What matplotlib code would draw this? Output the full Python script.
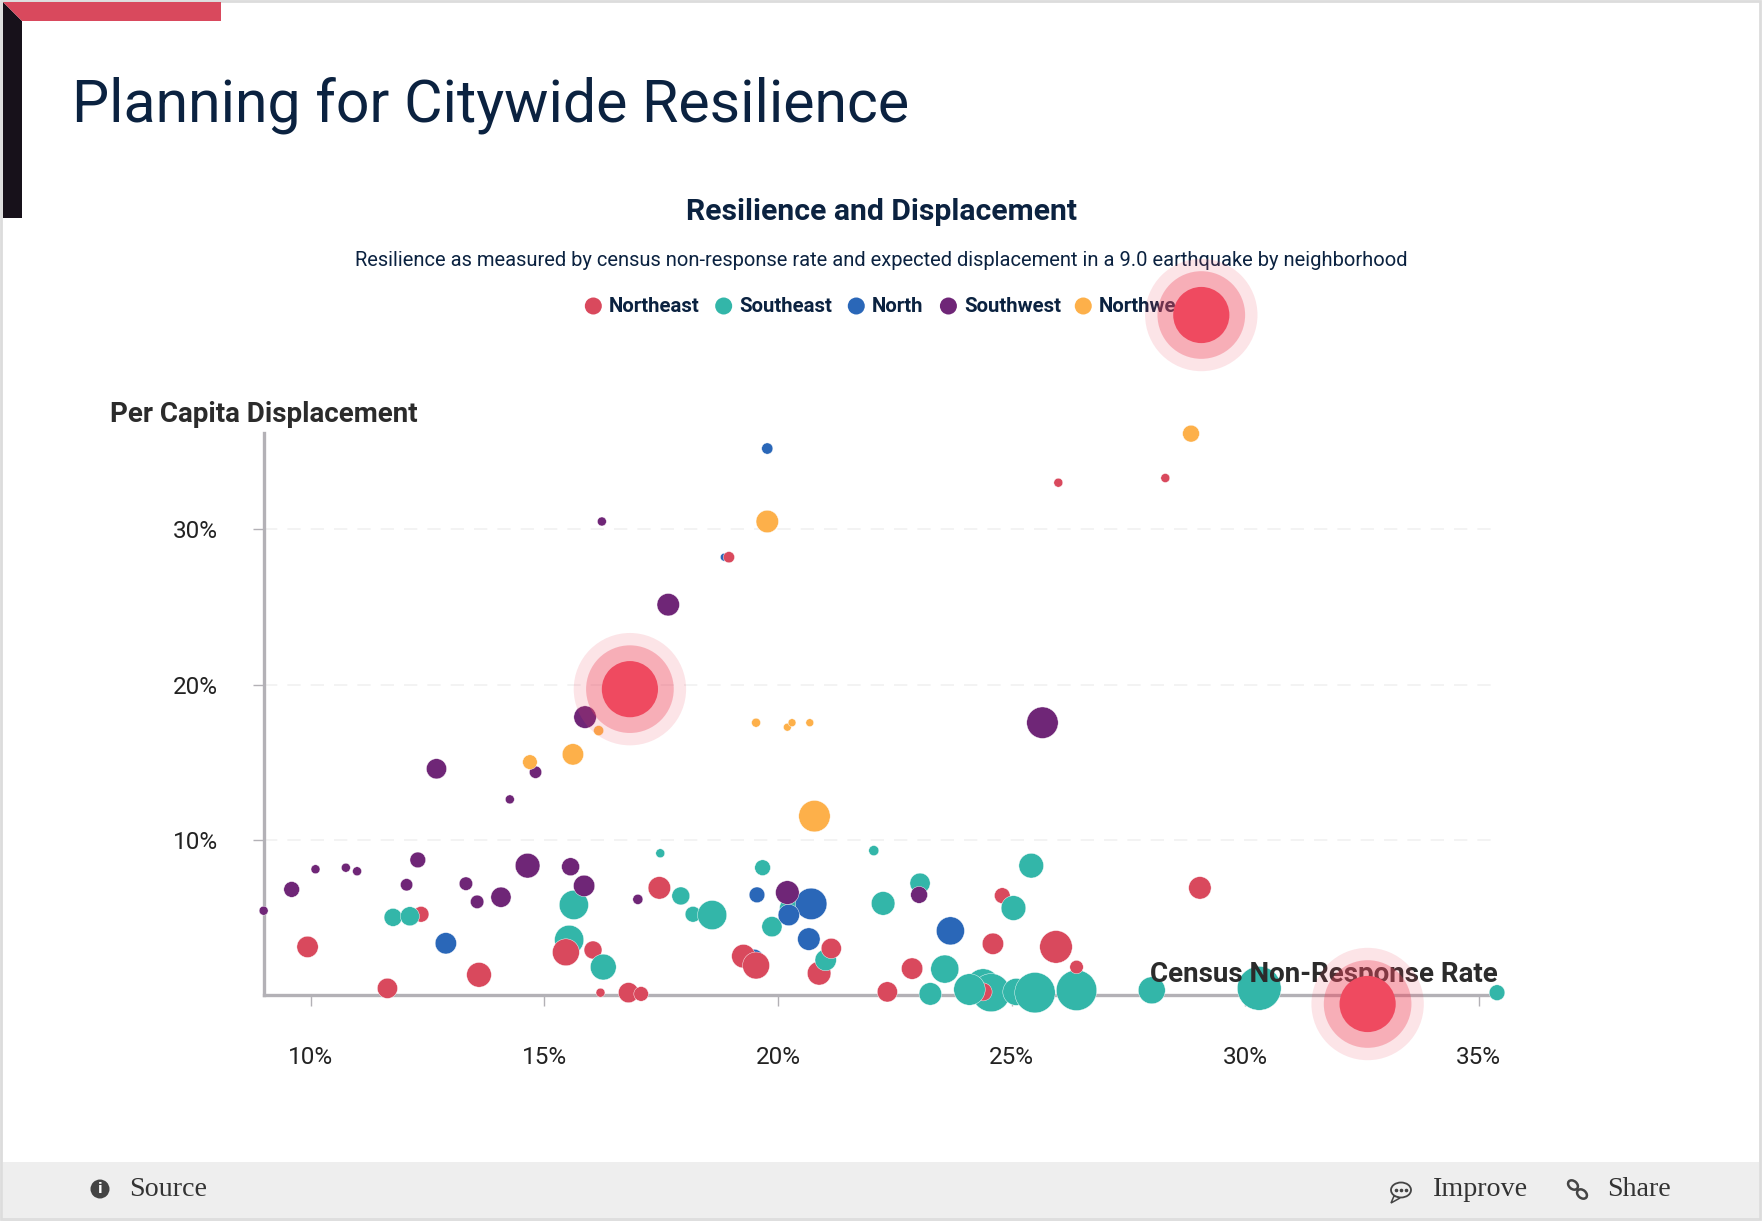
import matplotlib
matplotlib.use("Agg")
import matplotlib.pyplot as plt
from matplotlib.patches import Circle, Ellipse, Polygon, Rectangle

W, H = 1762, 1222
S = W / 1568  # picture was read at 1568 wide

# census non-response rate (%), displacement (%), bubble size
northeast_x = [11.64, 13.6, 15.46, 16.2, 16.8, 17.07, 17.46, 19.26, 19.53, 21.14, 22.34, 22.87, 24.6, 25.95, 26.39, 29.03, 18.95, 26.0, 28.29, 9.93, 24.39]
northeast_y = [0.43, 1.3, 2.75, 0.15, 0.15, 0.07, 6.9, 2.5, 1.9, 3.0, 0.2, 1.7, 3.3, 3.1, 1.8, 6.9, 28.2, 33.0, 33.3, 3.1, 0.2]
northeast_s = [9, 11, 12, 4, 9, 6.5, 10, 10.5, 12, 9, 9, 9.5, 9.5, 14.5, 6, 10, 5, 4, 4, 9.5, 8]

# these few sit behind the teal bubbles
northeast_back_x = [12.36, 16.04, 20.88, 24.8]
northeast_back_y = [5.2, 2.9, 1.4, 6.4]
northeast_back_s = [7, 8, 10.5, 7]

southeast_x = [11.76, 12.12, 15.63, 15.53, 16.26, 17.48, 17.92, 18.18, 18.59, 19.67, 19.87, 20.25, 21.02, 22.05, 22.25, 23.04, 23.57, 23.26, 24.39, 24.56, 25.1, 25.5, 26.39, 28.0, 30.3, 35.39, 25.04, 25.42]
southeast_y = [5.0, 5.07, 5.8, 3.55, 1.8, 9.13, 6.38, 5.2, 5.15, 8.2, 4.4, 5.6, 2.25, 9.3, 5.9, 7.2, 1.67, 0.07, 0.6, 0.15, 0.2, 0.15, 0.3, 0.3, 0.43, 0.15, 5.6, 8.33]
southeast_s = [8, 8.5, 13, 13, 11.5, 4, 8, 7, 13, 7, 9, 9, 9.5, 4.5, 10.5, 9, 12.5, 10, 15, 17, 12, 18, 18, 12, 19.5, 7, 11, 11]

# one teal bubble lies over the red at 24.4
southeast_front_x = [24.08]
southeast_front_y = [0.4]
southeast_front_s = [14]

north_x = [19.77, 12.89, 19.48, 19.55, 20.71, 20.23, 20.66, 23.69, 18.85]
north_y = [35.2, 3.33, 2.3, 6.45, 5.87, 5.15, 3.6, 4.13, 28.2]
north_s = [5, 9.5, 9, 7, 14, 9.5, 10, 12.5, 3.5]

southwest_x = [8.99, 9.59, 10.1, 10.75, 10.99, 12.05, 12.29, 13.32, 13.56, 14.07, 14.64, 15.56, 15.85, 17.0, 20.2, 23.02, 25.66, 15.87, 12.69, 14.81, 14.26, 16.23, 17.65]
southwest_y = [5.43, 6.8, 8.1, 8.2, 7.97, 7.1, 8.7, 7.17, 6.0, 6.3, 8.33, 8.26, 7.03, 6.16, 6.6, 6.45, 17.54, 17.9, 14.57, 14.35, 12.6, 30.5, 25.14]
southwest_s = [4, 7, 4, 4, 4, 5.5, 7, 6, 6, 9, 11, 8, 9.5, 4.5, 10.5, 7.5, 14, 10, 9, 5.5, 4, 4, 10]

northwest_x = [28.84, 19.77, 19.53, 20.2, 20.3, 20.68, 20.78, 16.16, 15.61, 14.69]
northwest_y = [36.16, 30.5, 17.54, 17.25, 17.54, 17.54, 11.52, 17.03, 15.5, 15.0]
northwest_s = [7.5, 10, 4, 3.5, 3.5, 3.5, 14, 4.5, 9.5, 6.5]

highlight_x = [16.83, 29.06, 32.62]
highlight_y = [19.7, 43.8, -0.58]

legend_names = ["Northeast", "Southeast", "North", "Southwest", "Northwest"]
legend_colors = ["#d9495d", "#33b6a9", "#2a67b8", "#6f2677", "#fdb04a"]
x_ticks = [10, 15, 20, 25, 30, 35]
y_ticks = [10, 20, 30]

sans = ["Roboto", "DejaVu Sans"]
NAVY = "#0b2240"

fig = plt.figure(figsize=(W / 100, H / 100), dpi=100, facecolor="white")

# page furniture in pixel coordinates
bg = fig.add_axes([0, 0, 1, 1], zorder=0)
bg.set_xlim(0, W)
bg.set_ylim(H, 0)
bg.axis("off")
bg.add_patch(Rectangle((1, 1), W - 3, H - 4, fc="white", ec="#dcdcdc", lw=2))
bg.add_patch(Polygon([(3, 218), (3, 2), (22, 21), (22, 218)], fc="#17111a", ec="none"))
bg.add_patch(Polygon([(3, 2), (221, 2), (221, 21), (22, 21)], fc="#d9495d", ec="none"))
bg.add_patch(Rectangle((3, 1162), W - 6, 56, fc="#eeeeee", ec="none"))
bg.add_patch(Rectangle((3, 1218), W - 6, 3, fc="#dedede", ec="none"))

bg.text(72, 105, "Planning for Citywide Resilience", family=sans, fontsize=42.5,
        color=NAVY, va="center")
bg.text(784 * S, 212, "Resilience and Displacement", family=sans, weight="bold",
        fontsize=21.7, color=NAVY, ha="center", va="center")
bg.text(784 * S, 261, "Resilience as measured by census non-response rate and expected displacement in a 9.0 earthquake by neighborhood",
        family=sans, fontsize=14.5, color=NAVY, ha="center", va="center")

legend_dots = [528, 644, 762, 844, 964]
for name, col, lx in zip(legend_names, legend_colors, legend_dots):
    bg.add_patch(Circle((lx * S, 306), 8.5, fc=col, ec="none"))
    bg.text((lx + 14) * S, 306, name, family=sans, weight="bold", fontsize=14.7,
            color=NAVY, va="center")

# footer
serif = ["Liberation Serif", "DejaVu Serif"]
for label, lx in [("Source", 115), ("Improve", 1275), ("Share", 1430)]:
    bg.text(lx * S, 1189, label, family=serif, fontsize=20.2, color="#333333", va="center")
bg.add_patch(Circle((100, 1189), 9.5, fc="#444444", ec="none"))
bg.text(100, 1189, "i", family="DejaVu Sans", weight="bold", fontsize=10, color="white",
        ha="center", va="center")
bg.add_patch(Ellipse((1401, 1190), 20, 15, fc="none", ec="#444444", lw=1.3))
bg.add_patch(Polygon([(1394, 1196), (1391, 1203), (1400, 1198)], fc="#eeeeee", ec="#444444", lw=1.1))
bg.plot([1396, 1401, 1406], [1190, 1190, 1190], ls="none", marker="o", ms=1.6, color="#444444")
bg.add_patch(Ellipse((1573, 1185), 11, 8, angle=40, fc="none", ec="#444444", lw=1.8))
bg.add_patch(Ellipse((1582, 1194), 11, 8, angle=40, fc="none", ec="#444444", lw=1.8))

# main chart, y axis reaches 36.2 and x axis 9 to 35.4
left, right = 264.1, 1497.5
top, bottom = 433, 995
ax = fig.add_axes([left / W, 1 - bottom / H, (right - left) / W, (bottom - top) / H], zorder=1)
ax.patch.set_alpha(0)
ax.set_xlim(9, 35.4)
ax.set_ylim(0, 36.2)
for side in ["top", "right"]:
    ax.spines[side].set_visible(False)
for side in ["left", "bottom"]:
    ax.spines[side].set_color("#b3b1b6")
    ax.spines[side].set_linewidth(2.4)

ax.set_xticks(x_ticks)
ax.set_xticklabels([f"{t}%" for t in x_ticks], family=sans, fontsize=17.5, color="#222222")
ax.set_yticks(y_ticks)
ax.set_yticklabels([f"{t}%" for t in y_ticks], family=sans, fontsize=17.5, color="#222222")
ax.tick_params(axis="x", length=8, width=1, color="#b3b1b6", pad=29)
ax.tick_params(axis="y", length=8, width=1, color="#b3b1b6", pad=25.5)
ax.grid(axis="y", color="#f1f1f1", lw=1.2, ls=(0, (8, 6)))
ax.set_axisbelow(True)


def bubbles(xs, ys, sizes, color, z):
    area = [(2 * r * S * 0.72) ** 2 for r in sizes]
    ax.scatter(xs, ys, s=area, color=color, edgecolors="white", linewidths=0.3,
               clip_on=False, zorder=z)


bubbles(northeast_back_x, northeast_back_y, northeast_back_s, "#d9495d", 3)
bubbles(southeast_x, southeast_y, southeast_s, "#33b6a9", 4)
bubbles(north_x, north_y, north_s, "#2a67b8", 5)
bubbles(southwest_x, southwest_y, southwest_s, "#6f2677", 6)
bubbles(northwest_x, northwest_y, northwest_s, "#fdb04a", 7)
bubbles(northeast_x, northeast_y, northeast_s, "#d9495d", 8)
bubbles(southeast_front_x, southeast_front_y, southeast_front_s, "#33b6a9", 8.5)

ax.text(0.0, 1.033, "Per Capita Displacement", transform=ax.transAxes, family=sans,
        weight="bold", fontsize=20, color="#2b2b2b", ha="center", va="center")
ax.text(35.4, 1.35, "Census Non-Response Rate", family=sans, weight="bold", fontsize=20,
        color="#2b2b2b", ha="right", va="center", zorder=9)

# highlighted neighbourhoods, three rings
for radius, col, a in [(50, "#ef4a60", 0.15), (39, "#ef4a60", 0.35), (25, "#ef4a60", 1.0)]:
    ax.scatter(highlight_x, highlight_y, s=(2 * radius * S * 0.72) ** 2, color=col, alpha=a,
               edgecolors="none", clip_on=False, zorder=10)

fig.savefig("out.png", dpi=100)
